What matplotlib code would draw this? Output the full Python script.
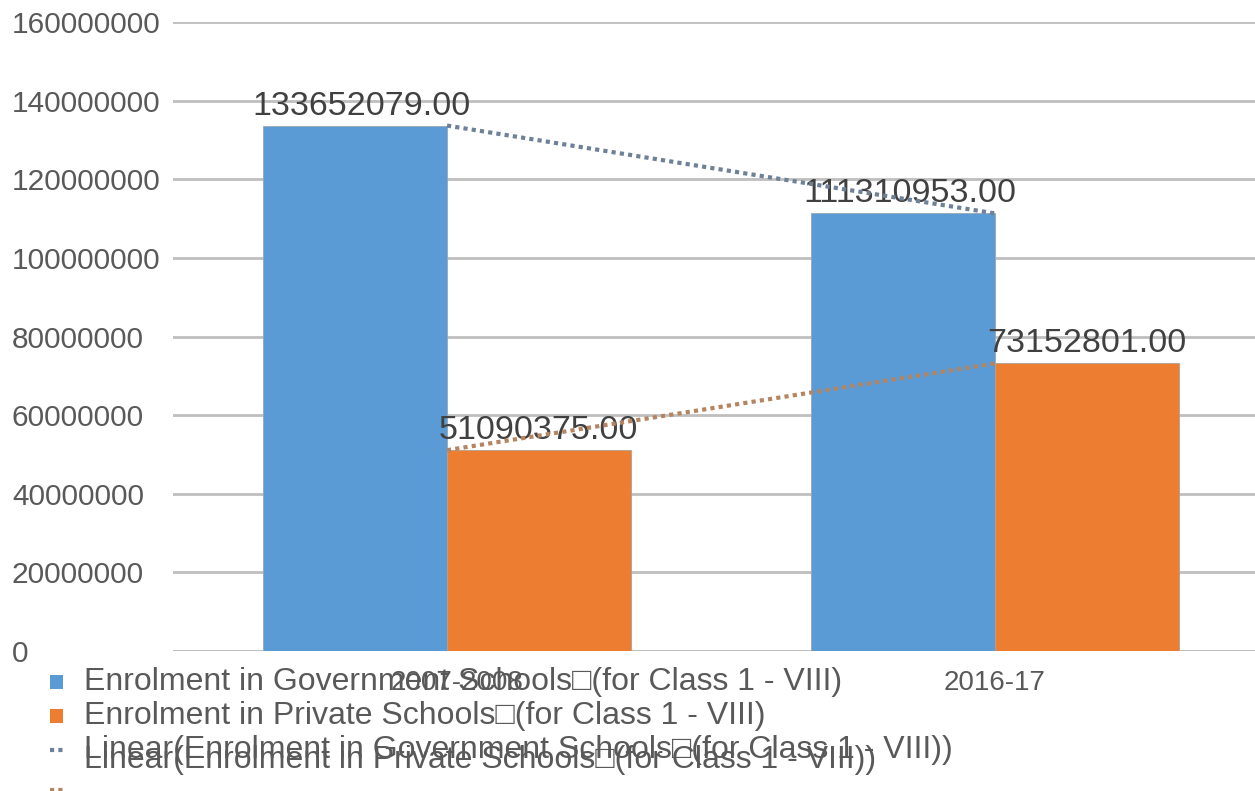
import numpy as np
import matplotlib
matplotlib.use("Agg")
import matplotlib.pyplot as plt
from matplotlib.patches import Rectangle
from matplotlib.lines import Line2D

plt.rcParams['font.family'] = ['Liberation Sans', 'DejaVu Sans']

categories = ["2007-2008", "2016-17"]
gov = [133652079.00, 111310953.00]
priv = [51090375.00, 73152801.00]
series_names = [
    "Enrolment in Government Schools\u25a1(for Class 1 - VIII)",
    "Enrolment in Private Schools\u25a1(for Class 1 - VIII)",
]
yticks = np.arange(0, 160000001, 20000000)

W, H = 1255, 791
fig = plt.figure(figsize=(W / 100, H / 100), dpi=100)

def px(x, y):
    # pixel coords (from top-left) -> figure fraction
    return x / W, 1 - y / H

ax = fig.add_axes([173 / W, 140 / H, 1096 / W, 629 / H])
x = np.arange(len(categories))
bw = 0.335
blue, orange = "#5b9bd5", "#ed7d31"
ax.bar(x - bw / 2, gov, bw, color=blue, edgecolor="#9aa6b2", linewidth=0.6, zorder=2)
ax.bar(x + bw / 2, priv, bw, color=orange, edgecolor="#b0a090", linewidth=0.6, zorder=2)

# linear trend lines
for vals, c in [(gov, "#6f8197"), (priv, "#b58562")]:
    k, b = np.polyfit(x, vals, 1)
    ax.plot(x, k * x + b, color=c, linestyle=(0, (1, 1)), linewidth=3, zorder=4)

for xi, v in zip(x - bw / 2, gov):
    ax.text(xi + 0.012, v + 1000000, f"{v:.2f}", ha="center", va="bottom",
            fontsize=24.5, color="#404040", zorder=3)
for xi, v in zip(x + bw / 2, priv):
    ax.text(xi, v + 1000000, f"{v:.2f}", ha="center", va="bottom",
            fontsize=24.5, color="#404040", zorder=3)

ax.set_xlim(-0.5, 1.5)
ax.set_ylim(0, 160000000)
ax.set_yticks(yticks)
ax.set_yticklabels([str(t) for t in yticks], fontsize=21.5, color="#595959")
for lab in ax.get_yticklabels():
    lab.set_ha("left")
ax.tick_params(axis="y", length=0, pad=116)
ax.set_xticks(x + np.array([0.018, 0]))
ax.set_xticklabels(categories, fontsize=20, color="#595959")
ax.tick_params(axis="x", length=0, pad=14)
ax.grid(axis="y", color="#bfbfbf", linewidth=2, zorder=0)
for s in ax.spines.values():
    s.set_visible(False)
ax.axhline(0, color="#bfbfbf", linewidth=2, zorder=1)

# legend drawn by hand (overlapping as in the original)
for yy, c in [(682, blue), (716, orange)]:
    fx, fy = px(50, yy + 7)
    fig.add_artist(Rectangle((fx, fy), 13 / W, 14 / H, transform=fig.transFigure,
                             facecolor=c, edgecolor="none"))
for yy, c in [(750, "#6f8197"), (790, "#b58562")]:
    fx0, fy0 = px(50, yy)
    fx1, _ = px(64, yy)
    fig.add_artist(Line2D([fx0, fx1], [fy0, fy0], transform=fig.transFigure,
                          color=c, linestyle=(0, (1, 1)), linewidth=3))
leg_texts = [
    (682, series_names[0]),
    (716, series_names[1]),
    (750, f"Linear({series_names[0]})"),
    (760, f"Linear({series_names[1]})"),
]
for yy, t in leg_texts:
    fx, fy = px(84, yy)
    fig.text(fx, fy, t, ha="left", va="center", fontsize=23, color="#595959")

fig.savefig("out.png", dpi=100)
